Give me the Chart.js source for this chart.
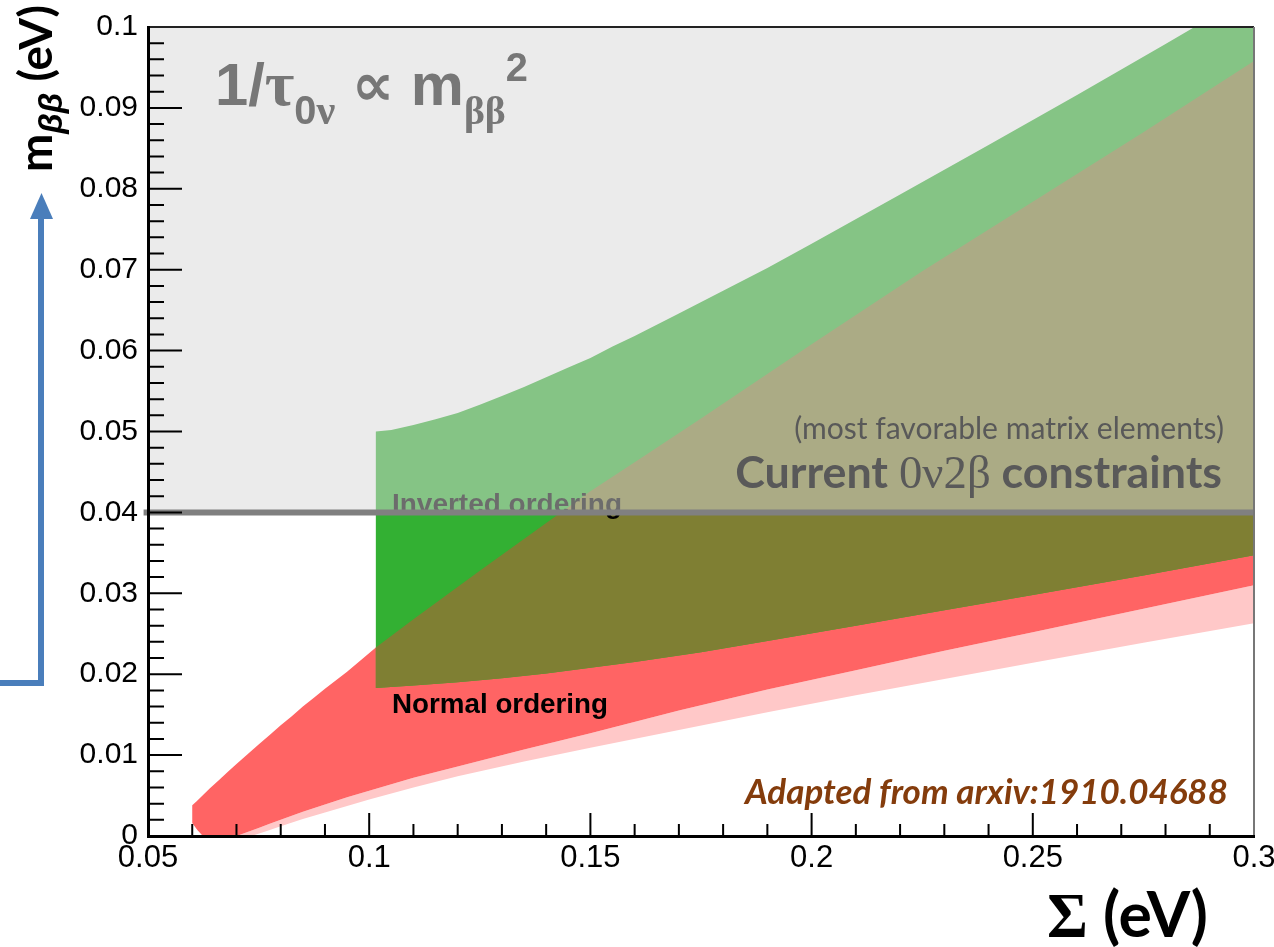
<!DOCTYPE html>
<html>
<head>
<meta charset="utf-8">
<script src="https://cdn.jsdelivr.net/npm/chart.js@4.4.1/dist/chart.umd.min.js"></script>
<style>
  html, body { margin: 0; padding: 0; background: #fff; }
</style>
</head>
<body>
<canvas id="chart" width="1274" height="947"></canvas>
<script>
// --- valeurs (Σ et mββ en eV) ---
// ordre inversé : bande verte
const ioUpperSigma = [0.1015, 0.105, 0.11, 0.115, 0.12, 0.125, 0.13, 0.135, 0.14, 0.145, 0.15, 0.155, 0.16, 0.17, 0.18, 0.19, 0.2, 0.22, 0.24, 0.26, 0.28, 0.3];
const ioUpper = [0.0500, 0.0502, 0.0508, 0.0515, 0.0523, 0.0533, 0.0544, 0.0555, 0.0567, 0.0579, 0.0591, 0.0605, 0.0618, 0.0646, 0.0674, 0.0702, 0.0732, 0.0793, 0.0854, 0.0916, 0.0979, 0.1043];
const ioLowerSigma = [0.1015, 0.11, 0.12, 0.13, 0.14, 0.15, 0.16, 0.175, 0.19, 0.21, 0.23, 0.25, 0.275, 0.3];
const ioLower = [0.0183, 0.0186, 0.0190, 0.0195, 0.0201, 0.0208, 0.0215, 0.0227, 0.0241, 0.0260, 0.0279, 0.0298, 0.0322, 0.0347];

// ordre normal : bande rouge
const noSigma = [0.06, 0.061, 0.0625, 0.064, 0.066, 0.068, 0.07, 0.0725, 0.075, 0.0775, 0.08, 0.0825, 0.085, 0.0875, 0.09, 0.095, 0.1015, 0.11, 0.1175, 0.125, 0.1375, 0.15, 0.1625, 0.175, 0.2, 0.225, 0.25, 0.275, 0.3];
const noUpper = [0.0038, 0.0043, 0.0051, 0.0059, 0.0069, 0.0079, 0.0089, 0.0101, 0.0113, 0.0125, 0.0137, 0.0148, 0.0160, 0.0171, 0.0182, 0.0203, 0.0233, 0.0268, 0.0298, 0.0328, 0.0377, 0.0426, 0.0471, 0.0516, 0.0608, 0.0698, 0.0784, 0.0870, 0.0958];
const noLowerSigma = [0.06, 0.0612, 0.0624, 0.07, 0.0725, 0.075, 0.0775, 0.08, 0.085, 0.09, 0.095, 0.10, 0.11, 0.12, 0.135, 0.15, 0.17, 0.19, 0.21, 0.23, 0.25, 0.275, 0.3];
const noLower = [0.0016, 0.0007, 0, 0, 0.0005, 0.0010, 0.0015, 0.0020, 0.0030, 0.0039, 0.0048, 0.0056, 0.0072, 0.0086, 0.0107, 0.0127, 0.0155, 0.0181, 0.0205, 0.0229, 0.0252, 0.0281, 0.0310];

// extension rose sous la bande rouge
const pinkSigma = [0.07, 0.0734, 0.0767, 0.08, 0.085, 0.09, 0.095, 0.10, 0.11, 0.12, 0.135, 0.15, 0.17, 0.19, 0.21, 0.23, 0.25, 0.275, 0.3];
const pinkLower = [0, 0, 0.0006, 0.0012, 0.0021, 0.0029, 0.0037, 0.0045, 0.0060, 0.0074, 0.0092, 0.0109, 0.0131, 0.0153, 0.0174, 0.0194, 0.0214, 0.0239, 0.0263];

// contrainte actuelle 0ν2β
const limitSigma = [0.049, 0.3];
const limitValue = 0.04;

// axes
const xTicks = [0.05, 0.1, 0.15, 0.2, 0.25, 0.3];
const xTickLabels = ['0.05', '0.1', '0.15', '0.2', '0.25', '0.3'];
const yTicks = [0, 0.01, 0.02, 0.03, 0.04, 0.05, 0.06, 0.07, 0.08, 0.09, 0.1];
const yTickLabels = ['0', '0.01', '0.02', '0.03', '0.04', '0.05', '0.06', '0.07', '0.08', '0.09', '0.1'];

const SANS = '"Liberation Sans", "DejaVu Sans", sans-serif';
const SERIF = '"Liberation Serif", "DejaVu Serif", serif';
const CALI = 'Lato, "Open Sans", sans-serif';

// --- construction des polygones ---
const pts = (xs, ys) => xs.map((x, i) => ({ x: x, y: ys[i] }));
const band = (upper, lower) => upper.concat(lower.slice().reverse());

const ioShape = band(pts(ioUpperSigma, ioUpper), pts(ioLowerSigma, ioLower));
const noShape = band(pts(noSigma, noUpper), pts(noLowerSigma, noLower));
const pinkShape = band(pts(noLowerSigma, noLower).filter(p => p.x >= pinkSigma[0]), pts(pinkSigma, pinkLower));
const overlapShape = band(pts(noSigma, noUpper).filter(p => p.x >= ioLowerSigma[0]), pts(ioLowerSigma, ioLower));

function polygon(data, color) {
    return {
        data: data,
        backgroundColor: color,
        borderColor: 'rgba(0,0,0,0)',
        borderWidth: 0,
        fill: 'shape',
        pointRadius: 0,
        tension: 0
    };
}

// --- texte en plusieurs morceaux (indices, polices mêlées) ---
function runFont(r, k) {
    return (r.style || '') + ' ' + (r.weight || 'normal') + ' ' + (r.size * k).toFixed(2) + 'px ' + r.family;
}

function drawRuns(ctx, runs, x, y, opts) {
    ctx.save();
    ctx.fillStyle = opts.color || '#000';
    ctx.textAlign = 'left';
    ctx.textBaseline = 'alphabetic';
    const measure = k => runs.reduce((sum, r) => {
        ctx.font = runFont(r, k);
        return sum + ctx.measureText(r.t).width;
    }, 0);
    let k = 1;
    if (opts.width) k = opts.width / measure(1);
    const total = measure(k);
    let cx = opts.align === 'right' ? x - total : x;
    runs.forEach(r => {
        ctx.font = runFont(r, k);
        ctx.fillText(r.t, cx, y + (r.dy || 0) * k);
        cx += ctx.measureText(r.t).width;
    });
    ctx.restore();
}

function subdivide(values, n) {
    const out = [];
    for (let i = 0; i < values.length - 1; i++) {
        for (let j = 1; j < n; j++) out.push(values[i] + (values[i + 1] - values[i]) * j / n);
    }
    return out;
}

const decorations = {
    id: 'decorations',
    afterDatasetDraw(chart, args) {
        // étiquettes posées sous le voile gris de la contrainte
        if (args.index !== 1) return;
        const ctx = chart.ctx;
        drawRuns(ctx, [{ t: 'Inverted ordering', weight: 'bold', size: 28, family: SANS }], 392, 513, { width: 230, color: '#000' });
        drawRuns(ctx, [{ t: 'Normal ordering', weight: 'bold', size: 28, family: SANS }], 392, 713, { width: 216, color: '#000' });
    },
    afterDatasetsDraw(chart) {
        const ctx = chart.ctx;
        const area = chart.chartArea;
        const xs = chart.scales.x;
        const ys = chart.scales.y;

        // graduations vers l'intérieur, façon ROOT
        ctx.save();
        ctx.strokeStyle = '#000';
        ctx.lineWidth = 2;
        ctx.beginPath();
        yTicks.forEach(v => { const p = ys.getPixelForValue(v); ctx.moveTo(area.left, p); ctx.lineTo(area.left + 34, p); });
        subdivide(yTicks, 5).forEach(v => { const p = ys.getPixelForValue(v); ctx.moveTo(area.left, p); ctx.lineTo(area.left + 16, p); });
        xTicks.forEach(v => { const p = xs.getPixelForValue(v); ctx.moveTo(p, area.bottom); ctx.lineTo(p, area.bottom - 23); });
        subdivide(xTicks, 5).forEach(v => { const p = xs.getPixelForValue(v); ctx.moveTo(p, area.bottom); ctx.lineTo(p, area.bottom - 12); });
        ctx.stroke();

        // cadre haut et droit
        ctx.lineWidth = 2;
        ctx.strokeStyle = '#222';
        ctx.beginPath();
        ctx.moveTo(area.left, area.top);
        ctx.lineTo(area.right, area.top);
        ctx.stroke();
        ctx.strokeStyle = '#777';
        ctx.beginPath();
        ctx.moveTo(area.right, area.top);
        ctx.lineTo(area.right, area.bottom);
        ctx.stroke();
        ctx.restore();

        // annotations
        drawRuns(ctx, [
            { t: '1/', weight: 'bold', size: 54, family: SANS },
            { t: 'τ', weight: 'bold', size: 58, family: SERIF },
            { t: '0', weight: 'bold', size: 36, family: SANS, dy: 17 },
            { t: 'ν', weight: 'bold', size: 38, family: SERIF, dy: 17 },
            { t: ' ∝ ', weight: 'bold', size: 54, family: SANS },
            { t: 'm', weight: 'bold', size: 54, family: SANS },
            { t: 'ββ', weight: 'bold', size: 36, family: SERIF, dy: 17 },
            { t: '2', weight: 'bold', size: 36, family: SANS, dy: -22 }
        ], 215, 105, { width: 313, color: '#777777' });

        drawRuns(ctx, [{ t: '(most favorable matrix elements)', size: 28, family: CALI }],
            1224, 439, { width: 430, align: 'right', color: '#595959' });
        drawRuns(ctx, [
            { t: 'Current ', weight: 'bold', size: 44, family: CALI },
            { t: '0ν2β', size: 46, family: SERIF },
            { t: ' constraints', weight: 'bold', size: 44, family: CALI }
        ], 1222, 488, { width: 487, align: 'right', color: '#595959' });

        drawRuns(ctx, [{ t: 'Adapted from arxiv:1910.04688', style: 'italic', weight: 'bold', size: 30, family: CALI }],
            745, 804, { width: 483, color: '#843c0c' });
    },
    afterDraw(chart) {
        const ctx = chart.ctx;

        // flèche bleue
        ctx.save();
        ctx.strokeStyle = '#4a7ebb';
        ctx.fillStyle = '#4a7ebb';
        ctx.lineWidth = 6;
        ctx.lineJoin = 'miter';
        ctx.beginPath();
        ctx.moveTo(0, 683);
        ctx.lineTo(41, 683);
        ctx.lineTo(41, 214);
        ctx.stroke();
        ctx.beginPath();
        ctx.moveTo(41.5, 193);
        ctx.lineTo(53, 219);
        ctx.lineTo(30, 219);
        ctx.closePath();
        ctx.fill();
        ctx.restore();

        // titre de l'axe y, tourné
        ctx.save();
        ctx.translate(52, 172);
        ctx.rotate(-Math.PI / 2);
        drawRuns(ctx, [
            { t: 'm', weight: 'bold', size: 44, family: CALI },
            { t: 'ββ', style: 'italic', weight: 'bold', size: 32, family: SANS, dy: 10 },
            { t: ' (eV)', weight: 'bold', size: 44, family: CALI }
        ], 0, 0, { width: 167, color: '#000' });
        ctx.restore();

        // titre de l'axe x
        drawRuns(ctx, [
            { t: 'Σ', weight: 'bold', size: 56, family: SERIF },
            { t: ' (eV)', weight: 'bold', size: 56, family: CALI }
        ], 1047, 937, { width: 161, color: '#000' });
    }
};

new Chart(document.getElementById('chart'), {
    type: 'line',
    data: {
        datasets: [
            {
                data: pts(limitSigma, limitSigma.map(() => limitValue)),
                borderColor: '#808080',
                borderWidth: 6,
                backgroundColor: 'rgba(215,215,215,0.5)',
                fill: 'end',
                pointRadius: 0,
                clip: { left: 6, right: 0, top: 0, bottom: 0 }
            },
            polygon(overlapShape, '#7f7f33'),
            polygon(ioShape, '#33b033'),
            polygon(noShape, '#ff6464'),
            polygon(pinkShape, '#ffc8c8')
        ]
    },
    options: {
        responsive: false,
        animation: false,
        events: [],
        layout: { padding: { top: 27, right: 20, left: 0, bottom: 0 } },
        plugins: { legend: { display: false }, tooltip: { enabled: false } },
        scales: {
            x: {
                type: 'linear',
                min: 0.05,
                max: 0.3,
                grid: { display: false, drawTicks: false },
                border: { display: true, color: '#000', width: 3, z: 1 },
                afterBuildTicks: s => { s.ticks = xTicks.map(v => ({ value: v })); },
                afterFit: s => { s.height = 111; s.paddingLeft = 0; s.paddingRight = 0; },
                ticks: {
                    color: '#000',
                    font: { family: SANS, size: 31 },
                    padding: 4,
                    maxRotation: 0,
                    autoSkip: false,
                    callback: (v, i) => xTickLabels[i]
                }
            },
            y: {
                type: 'linear',
                min: 0,
                max: 0.1,
                grid: { display: false, drawTicks: false },
                border: { display: true, color: '#000', width: 3, z: 1 },
                afterBuildTicks: s => { s.ticks = yTicks.map(v => ({ value: v })); },
                afterFit: s => { s.width = 148; s.paddingTop = 0; s.paddingBottom = 0; },
                ticks: {
                    color: '#000',
                    font: { family: SANS, size: 30 },
                    padding: 10,
                    autoSkip: false,
                    callback: (v, i) => yTickLabels[i]
                }
            }
        }
    },
    plugins: [decorations]
});
</script>
</body>
</html>
